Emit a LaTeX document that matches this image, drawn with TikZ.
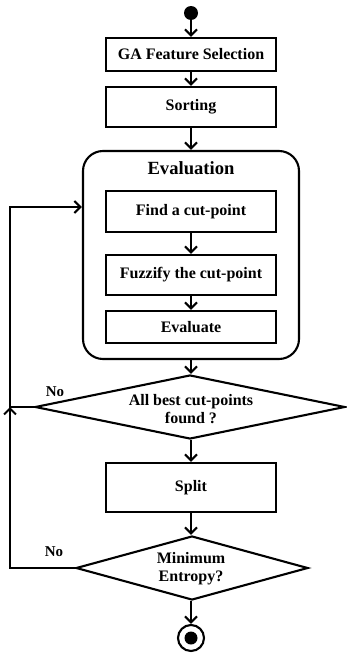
\documentclass[tikz,border=0pt]{standalone}
\usepackage{fontspec}
\setmainfont{Liberation Serif}
\usetikzlibrary{arrows.meta,shapes.geometric}
\begin{document}
\begin{tikzpicture}[x=1pt,y=-1pt,
  every node/.style={font=\fontsize{16}{18}\selectfont\bfseries},
  lw/.style={line width=2.1pt},
  procbox/.style={draw,lw,rectangle,minimum width=170pt,inner sep=0pt},
  dbox/.style={draw,lw,diamond,inner sep=0pt},
  arr/.style={lw,-{Straight Barb[length=6pt,width=12pt,line width=2.1pt]}},
  nolabel/.style={font=\fontsize{15}{17}\selectfont\bfseries}]
\useasboundingbox (0,0) rectangle (346,656);
\node[circle,fill=black,minimum size=14pt,inner sep=0pt] (start) at (191,13) {};
\node[procbox,minimum height=33pt] (ga) at (191,54.5) {GA Feature Selection};
\node[procbox,minimum height=40pt] (sort) at (191,107) {Sorting};
\node[draw,lw,rectangle,rounded corners=20pt,minimum width=216pt,minimum height=208pt] (eval) at (191,255) {};
\node[font=\fontsize{18.6}{20}\selectfont\bfseries] (evtitle) at (191,168) {Evaluation};
\node[procbox,minimum height=41pt] (find) at (191,211.5) {Find a cut-point};
\node[procbox,minimum height=40pt] (fuzz) at (191,275) {Fuzzify the cut-point};
\node[procbox,minimum height=32pt] (evl) at (191,327) {Evaluate};
\node[dbox,minimum width=310pt,minimum height=64pt] (d1) at (190,407) {};
\node[align=center,font=\fontsize{16}{18}\selectfont\bfseries] (d1t) at (191,409) {All best cut-points\\found ?};
\node[procbox,minimum height=49pt] (split) at (191,487.5) {Split};
\node[dbox,minimum width=232pt,minimum height=64pt] (d2) at (192,568) {};
\node[align=center,font=\fontsize{16}{18}\selectfont\bfseries] (d2t) at (191,569) {Minimum\\Entropy?};
\node[circle,draw,lw,minimum size=26pt,inner sep=0pt] (stop) at (191,638) {};
\node[circle,fill=black,minimum size=13pt,inner sep=0pt] (stopin) at (191,638) {};
\node[nolabel] (no1) at (55,392) {No};
\node[nolabel] (no2) at (54,552) {No};
\coordinate (j) at (10,407);
\coordinate (fb) at (10,207);
\draw[arr] (start) -- (ga);
\draw[arr] (ga) -- (sort);
\draw[arr] (sort) -- (sort |- eval.north);
\draw[arr] (find) -- (fuzz);
\draw[arr] (fuzz) -- (evl);
\draw[arr] (eval.south) -- (eval.south |- d1.north);
\draw[arr] (d1.south -| split) -- (split);
\draw[arr] (split) -- (split |- d2.north);
\draw[arr] (d2.south -| stop) -- (stop);
\draw[arr] (d1.west) -- (j) -- (fb) -- (eval.west |- fb);
\draw[arr] (d2.west) -| (j);
\end{tikzpicture}
\end{document}
